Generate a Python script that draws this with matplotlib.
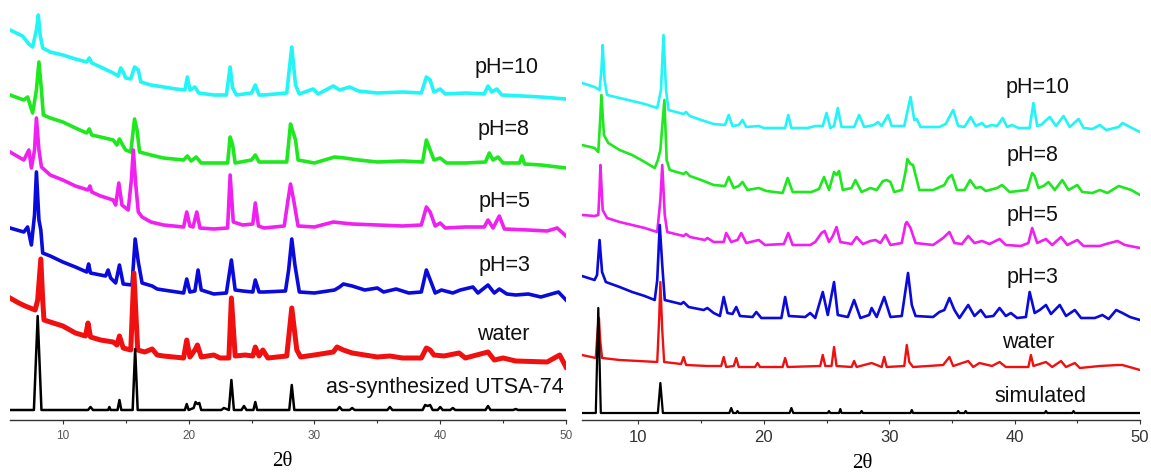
import numpy as np
import matplotlib.pyplot as plt
from matplotlib.ticker import MultipleLocator

# ── PXRD patterns, (2theta, intensity a.u.) ── #
# left panel: UTSA-74 after soaking
l_ph10 = [(5.8, 69), (6.8, 63), (7.3, 55), (7.6, 52), (7.9, 69), (8.05, 84), (8.2, 64), (8.4, 51),
          (9, 47), (10, 44), (11, 40), (11.9, 37), (12.1, 41), (12.3, 36), (13, 32), (14, 26), (14.4, 23),
          (14.6, 31), (14.8, 27), (15.0, 21), (15.4, 20), (15.7, 32), (16.0, 29), (16.2, 17), (17, 14),
          (18, 12), (19, 10), (19.7, 9), (19.9, 22), (20.1, 9), (20.5, 12), (20.8, 6), (22, 4), (23, 4),
          (23.3, 32), (23.5, 11), (23.8, 4), (25.0, 6), (25.3, 14), (25.6, 4), (26, 4), (27.8, 6),
          (28.2, 52), (28.5, 14), (28.8, 5), (29.9, 10), (30.3, 5), (31.5, 13), (32, 9), (32.8, 12),
          (33.5, 8), (35, 6), (37, 7), (38.5, 6), (38.9, 22), (39.2, 19), (39.5, 7), (40, 10), (40.4, 5),
          (42, 6), (43.5, 5), (43.8, 13), (44.1, 7), (44.5, 10), (44.9, 4), (46.5, 3), (48, 2), (50, 0)]
l_ph8 = [(5.8, 73), (6.9, 68), (7.2, 71), (7.6, 55), (7.9, 78), (8.1, 106), (8.3, 78), (8.45, 53),
         (9, 50), (10, 46), (11, 40), (11.9, 35), (12.1, 39), (12.3, 33), (13, 31), (14, 28), (14.3, 23),
         (14.5, 29), (14.8, 22), (15.0, 18), (15.4, 16), (15.7, 49), (15.9, 38), (16.1, 16), (17, 13),
         (18, 10), (19.6, 8), (19.9, 12), (20.2, 7), (20.6, 11), (21, 5), (22, 5), (23.1, 5), (23.3, 31),
         (23.5, 23), (23.7, 5), (25.0, 8), (25.3, 13), (25.6, 6), (27.8, 6), (28.1, 44), (28.3, 36),
         (28.5, 28), (28.7, 8), (30, 5), (31.6, 11), (32.4, 10), (33.5, 8), (35, 6), (37, 7), (38.6, 6),
         (38.9, 28), (39.2, 18), (39.5, 8), (40, 10), (40.5, 5), (42, 5), (43.6, 6), (43.9, 15), (44.2, 8),
         (44.6, 11), (45, 5), (46.3, 5), (46.5, 12), (46.7, 4), (48, 3), (50, 0)]
l_ph5 = [(5.8, 84), (6.9, 76), (7.3, 86), (7.5, 68), (7.75, 86), (7.9, 118), (8.1, 86), (8.3, 69),
         (9, 61), (10, 56), (11, 50), (12.0, 46), (12.15, 50), (12.3, 44), (13, 40), (14, 36), (14.2, 31),
         (14.45, 53), (14.7, 31), (15.2, 26), (15.45, 56), (15.6, 86), (15.8, 51), (16.0, 24), (16.3, 19),
         (17, 14), (18, 11), (19.6, 9), (19.85, 24), (20.1, 10), (20.35, 9), (20.65, 24), (20.9, 8),
         (22, 7), (23.1, 8), (23.3, 61), (23.55, 14), (24.3, 11), (25.1, 12), (25.3, 33), (25.55, 10),
         (26, 8), (27.6, 10), (27.9, 36), (28.1, 52), (28.35, 36), (28.7, 10), (30, 9), (31.5, 14),
         (33, 12), (35, 11), (37, 10), (38.5, 11), (38.9, 29), (39.2, 24), (39.6, 10), (40, 13), (40.4, 8),
         (42, 9), (43.5, 9), (43.8, 16), (44.2, 8), (44.7, 20), (45.1, 7), (47, 6), (48.5, 5), (49.3, 8),
         (50, 0)]
l_ph3 = [(5.8, 72), (6.9, 68), (7.2, 73), (7.5, 55), (7.75, 85), (7.9, 128), (8.1, 80), (8.25, 70),
         (8.4, 47), (9, 44), (10, 38), (11, 33), (11.9, 28), (12.05, 36), (12.2, 27), (13.4, 24), (13.6, 30),
         (13.8, 22), (14.2, 17), (14.5, 35), (14.8, 16), (15.5, 15), (15.75, 61), (16.0, 38), (16.3, 17),
         (17.1, 14), (17.5, 11), (18, 10), (19.6, 7), (19.85, 21), (20.1, 8), (20.5, 9), (20.75, 30),
         (21.0, 10), (22, 6), (23.0, 7), (23.4, 40), (23.7, 10), (24.3, 9), (25.1, 8), (25.3, 20),
         (25.6, 8), (26, 8), (27.7, 9), (27.95, 30), (28.2, 61), (28.45, 35), (28.8, 8), (30, 7),
         (31.6, 10), (32.0, 13), (32.3, 16), (33, 14), (34, 10), (35, 12), (35.5, 8), (36.5, 11), (37.5, 7),
         (38.5, 8), (38.9, 30), (39.3, 17), (39.6, 7), (40.1, 10), (41, 7), (41.6, 10), (42.6, 13),
         (43.0, 7), (43.8, 15), (44.3, 7), (44.7, 11), (45.3, 6), (46, 5), (47.0, 6), (48, 3), (49.4, 8),
         (50, 0)]
l_water = [(5.8, 69), (6.5, 64), (7.0, 61), (7.8, 57), (8.0, 67), (8.25, 108), (8.4, 67), (8.5, 47),
           (9, 45), (10, 41), (11, 34), (11.8, 31), (12.0, 44), (12.2, 30), (13, 27), (14, 25), (14.3, 22),
           (14.5, 31), (14.8, 19), (15.4, 17), (15.65, 94), (15.95, 17), (16.5, 15), (17.1, 18), (17.5, 12),
           (18, 11), (19.6, 9), (19.85, 27), (20.1, 10), (20.5, 17), (20.7, 22), (21, 10), (22, 12),
           (22.5, 9), (23.2, 9), (23.4, 69), (23.7, 11), (24.5, 12), (25.1, 11), (25.3, 20), (25.6, 11),
           (25.9, 17), (26.3, 9), (27.8, 11), (28.2, 59), (28.6, 17), (28.9, 10), (30, 12), (31.5, 15),
           (31.8, 20), (32.3, 17), (33, 14), (34, 12), (35, 10), (36, 11), (37, 9), (38.5, 9), (38.9, 19),
           (39.2, 17), (39.5, 12), (40.3, 11), (41.5, 14), (42, 9), (43.8, 15), (44.3, 7), (45, 9), (46, 6),
           (48.5, 5), (49.5, 12), (50, 0)]
l_assyn = [(5.8, 0), (7.7, 0), (8.0, 94), (8.3, 0), (12.0, 0), (12.2, 3), (12.4, 0), (13.6, 0), (13.7, 3),
           (13.8, 0), (14.35, 0), (14.5, 10), (14.65, 0), (15.55, 0), (15.75, 61), (15.95, 0), (19.7, 0),
           (19.85, 6), (20.0, 0), (20.4, 2), (20.55, 8), (20.7, 6), (20.85, 7), (21.0, 0), (22.6, 0),
           (22.8, 2), (23.2, 0), (23.4, 30), (23.6, 0), (24.2, 0), (24.4, 4), (24.6, 0), (25.15, 0),
           (25.3, 8), (25.45, 0), (28.0, 0), (28.2, 25), (28.4, 0), (31.8, 0), (32, 3), (32.2, 0),
           (32.8, 0), (33, 2), (33.2, 0), (35.8, 0), (36, 3), (36.2, 0), (38.6, 0), (38.8, 5), (39.0, 4),
           (39.2, 5), (39.4, 0), (39.8, 0), (40, 3), (40.2, 0), (40.8, 0), (41, 2), (41.2, 0), (43.6, 0),
           (43.8, 4), (44.0, 0), (45.8, 0), (46, 1), (46.2, 0), (50, 0)]

# right panel: second framework
r_ph10 = [(5.5, 49), (6.5, 45), (6.9, 42), (7.05, 62), (7.15, 87), (7.3, 52), (7.5, 37), (8.5, 34),
          (9.5, 31), (10.5, 28), (11.5, 24), (11.8, 42), (12.0, 97), (12.2, 42), (12.4, 22), (13.6, 18),
          (13.8, 20), (14.1, 16), (15, 12), (16, 8), (16.9, 7), (17.2, 17), (17.5, 6), (18.0, 7), (18.3, 12),
          (18.6, 5), (19.6, 6), (20, 4), (21.7, 4), (21.95, 17), (22.2, 4), (23.5, 4), (24.1, 6), (24.7, 6),
          (25.0, 19), (25.3, 4), (25.6, 6), (25.9, 24), (26.2, 5), (27.2, 5), (27.6, 17), (28.0, 5),
          (28.8, 7), (29.1, 10), (29.4, 6), (29.9, 17), (30.2, 6), (31.2, 6), (31.7, 35), (32.0, 12),
          (32.2, 13), (32.5, 5), (34.0, 5), (34.5, 8), (35.1, 22), (35.5, 6), (36.0, 5), (36.5, 15),
          (36.9, 6), (37.4, 9), (37.7, 5), (38.2, 7), (38.6, 6), (39.05, 14), (39.4, 5), (39.8, 7),
          (40.3, 4), (41.2, 4), (41.5, 29), (41.8, 6), (42.1, 7), (42.8, 15), (43.3, 6), (43.9, 16),
          (44.4, 5), (45.1, 13), (45.5, 4), (46.2, 3), (46.8, 7), (47.3, 2), (48.3, 5), (48.6, 9),
          (49.2, 5), (50, 0)]
r_ph8 = [(5.5, 50), (6.5, 47), (6.8, 43), (6.95, 75), (7.05, 100), (7.25, 60), (7.6, 52), (8.5, 45),
         (9.5, 40), (10.5, 33), (11.3, 27), (11.55, 35), (11.75, 45), (12.07, 95), (12.25, 35), (12.5, 25),
         (13.6, 21), (13.8, 23), (14.1, 19), (15, 15), (16, 10), (16.9, 9), (17.2, 18), (17.6, 7),
         (18.0, 9), (18.3, 13), (18.7, 5), (19.6, 7), (20.2, 4), (21.5, 2), (21.9, 17), (22.3, 3),
         (23.8, 3), (24.4, 6), (24.8, 18), (25.2, 5), (25.6, 23), (25.8, 20), (26.0, 24), (26.3, 5),
         (27.0, 7), (27.3, 15), (27.8, 3), (28.5, 7), (29.0, 5), (29.5, 14), (29.8, 15), (30.1, 13),
         (30.4, 3), (31.0, 5), (31.3, 23), (31.45, 36), (31.7, 31), (31.9, 30), (32.1, 20), (32.4, 5),
         (33.5, 5), (34.4, 10), (34.7, 17), (35.0, 20), (35.4, 5), (36.0, 5), (36.45, 15), (36.9, 7),
         (37.3, 8), (37.7, 4), (38.6, 7), (39.0, 10), (39.6, 3), (41.0, 5), (41.4, 22), (41.6, 19),
         (41.9, 7), (42.3, 9), (42.7, 13), (43.2, 5), (43.8, 15), (44.3, 5), (45.0, 10), (45.4, 3),
         (46.2, 2), (46.8, 5), (47.4, 2), (48.3, 9), (48.8, 7), (49.3, 5), (50, 0)]
r_ph5 = [(5.5, 33), (6.5, 32), (6.8, 33), (6.9, 58), (6.97, 83), (7.15, 38), (7.5, 30), (8.5, 26),
         (9.5, 23), (10.5, 20), (11.5, 16), (11.75, 48), (11.9, 83), (12.1, 33), (12.3, 16), (13.6, 12),
         (13.8, 14), (14.1, 11), (15.3, 8), (15.5, 10), (16, 6), (16.8, 6), (17.0, 15), (17.4, 6),
         (17.9, 8), (18.2, 15), (18.6, 5), (19.6, 8), (20.1, 3), (21.6, 4), (21.95, 15), (22.3, 3),
         (23.7, 3), (24.1, 6), (24.6, 15), (24.85, 17), (25.2, 6), (25.5, 12), (25.8, 21), (26.1, 6),
         (27.0, 4), (27.4, 11), (27.9, 4), (28.5, 7), (28.9, 8), (29.3, 5), (29.7, 13), (30.1, 3),
         (31.0, 5), (31.3, 24), (31.4, 26), (31.7, 20), (32.1, 5), (33.5, 3), (34.3, 10), (34.8, 16),
         (35.2, 5), (35.8, 4), (36.3, 12), (36.8, 5), (37.4, 7), (38.0, 4), (38.8, 9), (39.3, 3),
         (40.5, 2), (41.1, 5), (41.4, 20), (41.8, 5), (42.5, 9), (43.0, 3), (43.7, 11), (44.2, 3),
         (45.0, 8), (45.5, 2), (46.8, 2), (47.3, 4), (48.2, 7), (48.8, 3), (50, 0)]
r_ph3 = [(5.5, 44), (6.5, 40), (6.7, 45), (6.9, 80), (7.1, 48), (7.4, 38), (8.5, 33), (9.5, 28),
         (10.5, 24), (11.3, 20), (11.5, 40), (11.7, 95), (11.9, 55), (12.1, 20), (13.4, 16), (13.6, 18),
         (14.0, 13), (15.2, 10), (15.5, 12), (16.0, 7), (16.5, 4), (16.8, 23), (17.1, 7), (17.5, 6),
         (17.8, 13), (18.1, 4), (19.1, 3), (19.4, 8), (19.8, 2), (21.4, 2), (21.7, 23), (22.0, 4),
         (23.3, 3), (23.7, 7), (24.1, 2), (24.7, 28), (25.1, 5), (25.6, 38), (25.9, 5), (26.7, 3),
         (27.2, 20), (27.7, 2), (28.4, 5), (28.6, 12), (29.0, 3), (29.6, 23), (30.1, 3), (31.0, 4),
         (31.5, 47), (31.8, 15), (32.1, 4), (33.5, 3), (34.0, 8), (34.4, 10), (34.8, 22), (35.2, 10),
         (35.6, 2), (36.3, 15), (36.8, 4), (37.3, 10), (37.7, 3), (38.3, 4), (38.8, 12), (39.3, 4),
         (39.7, 7), (40.2, 2), (40.9, 3), (41.2, 28), (41.6, 7), (42.0, 10), (42.5, 15), (42.9, 6),
         (43.6, 15), (44.1, 4), (44.8, 10), (45.3, 2), (46.4, 2), (47.0, 5), (47.5, 1), (48.1, 10),
         (48.6, 7), (49.2, 3), (50, 0)]
r_water = [(5.5, 15), (6.6, 12), (6.75, 40), (6.85, 52), (6.95, 30), (7.1, 12), (8.5, 10), (10, 9),
           (11.5, 8), (11.65, 50), (11.75, 88), (11.9, 40), (12.05, 8), (13.4, 6), (13.6, 13), (13.8, 5),
           (15.5, 4), (16.6, 4), (16.8, 13), (17.0, 3), (17.6, 4), (17.8, 12), (18.0, 3), (19.3, 3),
           (19.5, 7), (19.7, 3), (21.5, 3), (21.7, 12), (21.9, 3), (24.5, 4), (24.7, 15), (24.9, 4),
           (25.4, 4), (25.6, 23), (25.8, 4), (27.0, 3), (27.2, 9), (27.4, 3), (28.6, 7), (29.4, 3),
           (29.6, 13), (29.8, 3), (31.2, 4), (31.4, 25), (31.6, 8), (31.9, 3), (34.3, 5), (34.8, 13),
           (35.1, 4), (36.3, 9), (36.7, 3), (37.2, 7), (38.2, 4), (38.8, 8), (39.3, 3), (41.1, 3),
           (41.3, 15), (41.5, 4), (42.5, 8), (43.0, 3), (43.7, 9), (44.1, 3), (44.8, 7), (45.2, 2),
           (46.8, 4), (48.2, 5), (48.6, 5), (50, 0)]
r_sim = [(5.5, 0), (6.6, 0), (6.8, 105), (7.0, 0), (11.55, 0), (11.75, 30), (11.95, 0), (17.25, 0),
         (17.4, 5), (17.55, 0), (17.8, 0), (17.9, 2), (18.0, 0), (22.05, 0), (22.2, 5), (22.35, 0),
         (25.1, 0), (25.2, 2), (25.3, 0), (26.0, 0), (26.1, 4), (26.2, 0), (27.7, 0), (27.8, 2),
         (27.9, 0), (31.7, 0), (31.8, 3), (31.9, 0), (35.4, 0), (35.5, 2), (35.6, 0), (36.0, 0),
         (36.1, 2), (36.2, 0), (42.4, 0), (42.5, 2), (42.6, 0), (44.6, 0), (44.7, 2), (44.8, 0), (50, 0)]

left_names = ["pH=10", "pH=8", "pH=5", "pH=3", "water", "as-synthesized UTSA-74"]
right_names = ["pH=10", "pH=8", "pH=5", "pH=3", "water", "simulated"]
left_offsets = [323, 254, 186, 122, 55, 12]
right_offsets = [290, 227, 174, 102, 52, 9]

colors = ["#22f5f5", "#1ee81e", "#f020f0", "#0a0adc", "#f01010", "black"]
left_lw = [2.6, 2.6, 2.6, 2.6, 3.6, 1.8]
right_lw = [1.9, 1.9, 1.9, 1.9, 1.7, 1.6]

# label anchors (2theta, height)
left_label_pos = [(45.3, 354), (45.0, 292), (45.15, 220), (45.15, 157), (45.0, 87), (40.4, 34)]
right_label_pos = [(41.8, 335), (41.4, 266), (41.4, 207), (41.4, 144), (41.1, 80), (42.1, 25)]

W, H = 1151, 474
fig = plt.figure(figsize=(W / 100, H / 100), dpi=100)


def stacked_panel(rect, xlim, traces, offsets, names, label_pos, lws, tick_size, tick_color):
    ax = fig.add_axes(rect)
    for tr, off, c, lw in zip(traces, offsets, colors, lws):
        tt, inten = np.array(tr).T
        ax.plot(tt, inten + off, color=c, lw=lw, solid_joinstyle='round')
    for name, (tx, ty) in zip(names, label_pos):
        ax.text(tx, ty, name, ha='center', va='center', fontsize=15.5,
                family='Liberation Sans', color='#111111')
    ax.set_xlim(*xlim)
    ax.set_ylim(2, 422)
    for s in ['left', 'right', 'top']:
        ax.spines[s].set_visible(False)
    ax.spines['bottom'].set_color('#333333')
    ax.spines['bottom'].set_linewidth(1.0)
    ax.set_yticks([])
    ax.xaxis.set_major_locator(MultipleLocator(10))
    ax.xaxis.set_minor_locator(MultipleLocator(5))
    ax.tick_params(axis='x', which='major', length=3, width=0.8, color='#333333',
                   labelsize=tick_size, labelcolor=tick_color, pad=4)
    ax.tick_params(axis='x', which='minor', length=2, width=0.8, color='#333333')
    for lab in ax.get_xticklabels():
        lab.set_family('Liberation Sans')
    ax.patch.set_alpha(0)
    return ax


ax1 = stacked_panel([10 / W, 54 / H, 556 / W, 420 / H], (5.8, 50),
                    [l_ph10, l_ph8, l_ph5, l_ph3, l_water, l_assyn], left_offsets,
                    left_names, left_label_pos, left_lw, 8.5, '#555555')
ax2 = stacked_panel([582 / W, 54 / H, 558 / W, 420 / H], (5.5, 50),
                    [r_ph10, r_ph8, r_ph5, r_ph3, r_water, r_sim], right_offsets,
                    right_names, right_label_pos, right_lw, 12, '#333333')

fig.text(282 / W, 1 - 462 / H, "2θ", ha='center', va='center', fontsize=15, family='Liberation Serif')
fig.text(862 / W, 1 - 464 / H, "2θ", ha='center', va='center', fontsize=15, family='Liberation Serif')

fig.savefig("out.png", dpi=100)
